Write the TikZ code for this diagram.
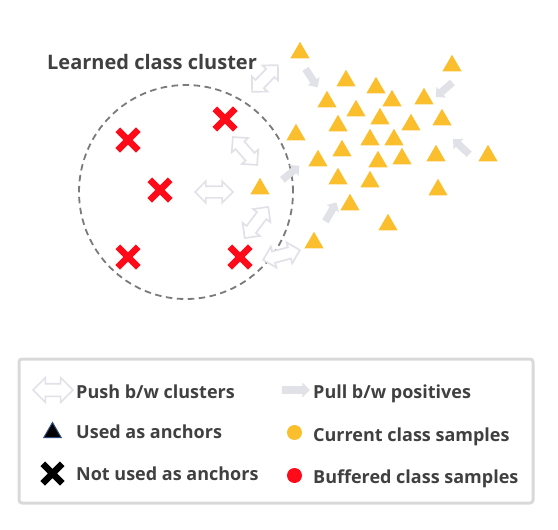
\documentclass[tikz,border=0pt]{standalone}
\usepackage{fontspec}
\setmainfont{Open Sans}
\usetikzlibrary{shapes.geometric, shapes.arrows, shapes.misc}

\definecolor{curyellow}{HTML}{FBBF2D}
\definecolor{bufred}{HTML}{FF0A19}
\definecolor{arrowgray}{HTML}{E1E1E8}
\definecolor{textgray}{HTML}{404040}
\definecolor{circlegray}{HTML}{7A7A7A}
\definecolor{boxgray}{HTML}{D9D9D9}
\definecolor{anchorblue}{HTML}{2F4A80}

\tikzset{
  cursample/.style={regular polygon, regular polygon sides=3, fill=curyellow,
    minimum size=22pt, inner sep=0pt, yshift=-2.75pt},
  bufsample/.style={cross out, draw=bufred, line width=6.5pt, minimum size=14pt, inner sep=0pt},
  pusharrow/.style={double arrow, draw=arrowgray, fill=white, line width=1.7pt,
    minimum width=20pt, minimum height=#1, inner sep=5pt, double arrow head extend=5pt},
  pullarrow/.style={single arrow, fill=arrowgray, minimum width=14pt, minimum height=#1,
    inner sep=3.5pt, single arrow head extend=3.5pt},
  legendtext/.style={anchor=base west, inner sep=0pt, text=textgray,
    font=\fontsize{18}{21}\selectfont\bfseries}
}

\begin{document}
\begin{tikzpicture}[x=1pt, y=-1pt]
  \useasboundingbox (0,0) rectangle (558,530);

  % learned cluster of buffered samples
  \draw[circlegray, line width=1.8pt, dash pattern=on 6.5pt off 4.5pt] (186,192) circle (107pt);
  \node[legendtext, font=\fontsize{20}{24}\selectfont\bfseries] (title) at (47,69) {Learned class cluster};
  \node[bufsample] (x1) at (128,140) {};
  \node[bufsample] (x2) at (225,119) {};
  \node[bufsample] (x3) at (160,190) {};
  \node[bufsample] (x4) at (128,257) {};
  \node[bufsample] (x5) at (240,257) {};

  % current class samples
  \node[cursample] (t1) at (300,50) {};
  \node[cursample] (t2) at (346,78) {};
  \node[cursample] (t3) at (376,85) {};
  \node[cursample] (t4) at (327,99) {};
  \node[cursample] (t5) at (392,98) {};
  \node[cursample] (t6) at (356,108) {};
  \node[cursample] (t7) at (424,96) {};
  \node[cursample] (t8) at (452,63) {};
  \node[cursample] (t9) at (380,116) {};
  \node[cursample] (t10) at (338,123) {};
  \node[cursample] (t11) at (411,122) {};
  \node[cursample] (t12) at (442,117) {};
  \node[cursample] (t13) at (296,132) {};
  \node[cursample] (t14) at (370,137) {};
  \node[cursample] (t15) at (394,137) {};
  \node[cursample] (t16) at (342,148) {};
  \node[cursample] (t17) at (318,158) {};
  \node[cursample] (t18) at (378,159) {};
  \node[cursample] (t19) at (402,156) {};
  \node[cursample] (t20) at (436,153) {};
  \node[cursample] (t21) at (488,153) {};
  \node[cursample] (t22) at (338,176) {};
  \node[cursample] (t23) at (370,179) {};
  \node[cursample] (t24) at (260,186) {};
  \node[cursample] (t25) at (438,187) {};
  \node[cursample] (t26) at (350,202) {};
  \node[cursample] (t27) at (388,222) {};
  \node[cursample] (t28) at (314,240) {};

  % push between clusters
  \node[pusharrow=37pt, rotate=46] (p1) at (265,78.5) {};
  \node[pusharrow=37pt, rotate=-49] (p2) at (245,151) {};
  \node[pusharrow=38pt] (p3) at (214,192) {};
  \node[pusharrow=39pt, rotate=53] (p4) at (256.5,222.5) {};
  \node[pusharrow=38pt, rotate=15] (p5) at (281.5,255) {};

  % pull between positives
  \node[pullarrow=22pt, rotate=-57] (q1) at (310.5,76.5) {};
  \node[pullarrow=22pt, rotate=-139] (q2) at (445.5,88.5) {};
  \node[pullarrow=22pt, rotate=137] (q3) at (462.5,148) {};
  \node[pullarrow=22pt, rotate=39] (q4) at (289.5,174) {};
  \node[pullarrow=22pt, rotate=60] (q5) at (330,213.5) {};

  % legend
  \draw[boxgray, line width=3pt, rounded corners=3pt] (19,359) rectangle (533,503);
  \node[pusharrow=40pt, minimum width=23pt, inner sep=5.5pt, double arrow head extend=6pt] (lpush) at (53,390) {};
  \node[legendtext] (lpusht) at (76,398) {Push b/w clusters};
  \node[pullarrow=28pt, minimum width=15pt] (lpull) at (294,390) {};
  \node[legendtext] (lpullt) at (313,398) {Pull b/w positives};
  \node[regular polygon, regular polygon sides=3, fill=black, draw=anchorblue, line width=1pt,
    minimum size=20pt, inner sep=0pt, yshift=-2.5pt] (lused) at (52.5,430) {};
  \node[legendtext] (lusedt) at (76,438) {Used as anchors};
  \node[circle, fill=curyellow, minimum size=15pt, inner sep=0pt] (lcur) at (294.5,432.5) {};
  \node[legendtext] (lcurt) at (313,441) {Current class samples};
  \node[cross out, draw=black, line width=6.5pt, minimum size=13pt, inner sep=0pt] (lnot) at (52.5,473.5) {};
  \node[legendtext] (lnott) at (76,480) {Not used as anchors};
  \node[circle, fill=bufred, minimum size=15pt, inner sep=0pt] (lbuf) at (294.5,475.5) {};
  \node[legendtext] (lbuft) at (313,483) {Buffered class samples};
\end{tikzpicture}
\end{document}
